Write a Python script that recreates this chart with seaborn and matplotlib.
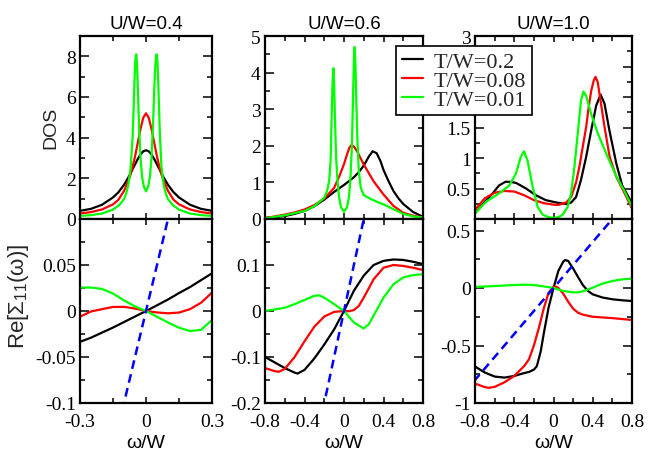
import numpy as np
import pandas as pd
import matplotlib
matplotlib.use("Agg")
import matplotlib.pyplot as plt
import seaborn as sns
from matplotlib.lines import Line2D

sns.set_style("white")
plt.rcParams["font.family"] = ["Liberation Sans", "DejaVu Sans"]
plt.rcParams["mathtext.fontset"] = "custom"
plt.rcParams["mathtext.rm"] = "Liberation Sans"
plt.rcParams["mathtext.it"] = "Liberation Sans:italic"

# ---------------- data ----------------
titles = ["U/W=0.4", "U/W=0.6", "U/W=1.0"]
temp_labels = ["T/W=0.2", "T/W=0.08", "T/W=0.01"]
colors = ["#000000", "#ff0000", "#00ff00"]

# U/W = 0.4, DOS
dos04_T02_w = [-0.3, -0.25, -0.2, -0.15, -0.125, -0.1, -0.075, -0.0625, -0.05, -0.0375, -0.025, -0.0125, 0,
               0.0125, 0.025, 0.0375, 0.05, 0.0625, 0.075, 0.1, 0.125, 0.15, 0.2, 0.25, 0.3]
dos04_T02 = [0.40, 0.50, 0.70, 1.06, 1.32, 1.68, 2.14, 2.42, 2.68, 2.95, 3.17, 3.33, 3.38,
             3.33, 3.17, 2.95, 2.68, 2.42, 2.14, 1.68, 1.32, 1.06, 0.70, 0.50, 0.40]
dos04_T008_w = [-0.3, -0.25, -0.2, -0.15, -0.125, -0.1, -0.075, -0.0625, -0.05, -0.0375, -0.025, -0.0125, 0,
                0.0125, 0.025, 0.0375, 0.05, 0.0625, 0.075, 0.1, 0.125, 0.15, 0.2, 0.25, 0.3]
dos04_T008 = [0.27, 0.34, 0.47, 0.72, 0.95, 1.38, 2.03, 2.49, 3.07, 3.74, 4.43, 4.98, 5.20,
              4.98, 4.43, 3.74, 3.07, 2.49, 2.03, 1.38, 0.95, 0.72, 0.47, 0.34, 0.27]
dos04_T001_w = [-0.3, -0.25, -0.2, -0.15, -0.12, -0.1, -0.09, -0.08, -0.07, -0.061, -0.056, -0.052, -0.048,
                -0.044, -0.04, -0.036, -0.031, -0.025, -0.018, -0.01, 0,
                0.01, 0.018, 0.025, 0.031, 0.036, 0.041, 0.046, 0.050, 0.054, 0.058, 0.063,
                0.07, 0.08, 0.09, 0.1, 0.12, 0.15, 0.2, 0.25, 0.3]
dos04_T001 = [0.15, 0.19, 0.27, 0.46, 0.70, 0.98, 1.25, 1.70, 2.50, 4.00, 5.50, 6.90, 7.90,
              8.10, 7.40, 6.10, 4.40, 3.00, 2.10, 1.60, 1.36,
              1.60, 2.10, 3.00, 4.40, 5.90, 7.30, 8.05, 8.10, 7.30, 5.90, 4.20,
              2.60, 1.70, 1.25, 0.98, 0.70, 0.46, 0.27, 0.19, 0.15]

# U/W = 0.6, DOS
dos06_T02_w = [-0.8, -0.7, -0.6, -0.5, -0.4, -0.3, -0.2, -0.1, 0, 0.1, 0.15, 0.2, 0.25, 0.29, 0.33,
               0.37, 0.4, 0.45, 0.5, 0.55, 0.6, 0.7, 0.8]
dos06_T02 = [0.03, 0.05, 0.08, 0.14, 0.22, 0.35, 0.53, 0.74, 0.93, 1.14, 1.28, 1.46, 1.70, 1.85, 1.80,
             1.58, 1.34, 1.04, 0.77, 0.57, 0.41, 0.19, 0.06]
dos06_T008_w = [-0.8, -0.7, -0.6, -0.5, -0.4, -0.3, -0.2, -0.1, -0.05, 0, 0.03, 0.055, 0.075, 0.1, 0.13,
                0.2, 0.3, 0.4, 0.5, 0.6, 0.7, 0.8]
dos06_T008 = [0.03, 0.07, 0.12, 0.18, 0.26, 0.38, 0.56, 0.85, 1.15, 1.50, 1.76, 1.95, 2.02, 1.98, 1.86,
              1.49, 1.03, 0.67, 0.36, 0.17, 0.09, 0.04]
dos06_T001_w = [-0.8, -0.6, -0.4, -0.3, -0.2, -0.17, -0.15, -0.135, -0.125, -0.115, -0.107, -0.1, -0.09,
                -0.08, -0.065, -0.05, -0.03, 0, 0.03, 0.05, 0.065, 0.08, 0.092, 0.102, 0.108, 0.115,
                0.125, 0.135, 0.15, 0.17, 0.2, 0.27, 0.35, 0.4, 0.5, 0.6, 0.7, 0.8]
dos06_T001 = [0.02, 0.10, 0.22, 0.35, 0.58, 0.78, 1.05, 1.60, 2.80, 3.80, 4.12, 3.70, 2.60,
              1.70, 1.00, 0.60, 0.32, 0.20, 0.32, 0.60, 1.10, 2.00, 3.40, 4.50, 4.70, 4.30,
              3.20, 2.20, 1.30, 0.85, 0.65, 0.55, 0.45, 0.40, 0.27, 0.14, 0.07, 0.04]

# U/W = 1.0, DOS
dos10_T02_w = [-0.8, -0.7, -0.62, -0.555, -0.49, -0.44, -0.38, -0.28, -0.18, -0.08, 0.03, 0.13, 0.18, 0.23,
               0.28, 0.333, 0.384, 0.435, 0.48, 0.52, 0.57, 0.64, 0.7, 0.8]
dos10_T02 = [0.09, 0.28, 0.42, 0.55, 0.61, 0.61, 0.59, 0.50, 0.39, 0.31, 0.27, 0.245, 0.27, 0.36,
             0.64, 1.02, 1.45, 1.86, 2.04, 1.89, 1.45, 0.91, 0.55, 0.26]
dos10_T008_w = [-0.8, -0.7, -0.6, -0.5, -0.4, -0.3, -0.2, -0.1, 0, 0.05, 0.13, 0.18, 0.23, 0.264, 0.3,
                0.333, 0.36, 0.384, 0.41, 0.428, 0.45, 0.469, 0.52, 0.572, 0.64, 0.725, 0.8]
dos10_T008 = [0.15, 0.34, 0.43, 0.46, 0.45, 0.39, 0.31, 0.26, 0.235, 0.23, 0.27, 0.36, 0.60, 0.86, 1.20,
              1.51, 1.85, 2.10, 2.27, 2.33, 2.25, 2.05, 1.51, 1.02, 0.69, 0.42, 0.17]
dos10_T001_w = [-0.8, -0.69, -0.555, -0.45, -0.384, -0.333, -0.30, -0.265, -0.213, -0.162, -0.11, -0.05, 0,
                0.05, 0.094, 0.145, 0.179, 0.213, 0.247, 0.28, 0.305, 0.333, 0.384, 0.452, 0.538,
                0.64, 0.725, 0.8]
dos10_T001 = [0.09, 0.28, 0.42, 0.55, 0.74, 1.02, 1.11, 0.96, 0.53, 0.20, 0.07, 0.03, 0.02,
              0.03, 0.07, 0.20, 0.42, 0.85, 1.40, 1.94, 2.09, 2.02, 1.72, 1.40, 1.07,
              0.70, 0.45, 0.20]

# U/W = 0.4, Re Sigma_11
re04_w = [-0.3, -0.25, -0.2, -0.15, -0.1, -0.05, 0, 0.05, 0.1, 0.15, 0.2, 0.25, 0.3]
re04_T02 = [-0.0335, -0.029, -0.0235, -0.018, -0.012, -0.006, 0, 0.0062, 0.0125, 0.0195, 0.026, 0.0335, 0.041]
re04_T008 = [-0.0062, -0.0005, 0.002, 0.0044, 0.0045, 0.0027, 0, -0.0016, -0.0025, -0.0017, 0.002, 0.009, 0.020]
re04_T001 = [0.0255, 0.0255, 0.024, 0.019, 0.0115, 0.005, 0, -0.0062, -0.0125, -0.0182, -0.0218, -0.0205, -0.0098]

# U/W = 0.6, Re Sigma_11
re06_T02_w = [-0.8, -0.7, -0.6, -0.5, -0.47, -0.4, -0.3, -0.2, -0.1, -0.05, 0, 0.05, 0.1, 0.2, 0.3, 0.4,
              0.5, 0.6, 0.7, 0.8]
re06_T02 = [-0.100, -0.112, -0.124, -0.134, -0.136, -0.128, -0.103, -0.073, -0.040, -0.020, 0, 0.022, 0.044,
            0.077, 0.100, 0.109, 0.112, 0.111, 0.107, 0.102]
re06_T008_w = [-0.8, -0.7, -0.66, -0.6, -0.5, -0.4, -0.3, -0.2, -0.1, 0, 0.05, 0.1, 0.15, 0.2, 0.3, 0.4,
               0.5, 0.6, 0.7, 0.8]
re06_T008 = [-0.124, -0.131, -0.132, -0.126, -0.100, -0.066, -0.034, -0.012, -0.002, 0, -0.0005, 0.002,
             0.011, 0.029, 0.069, 0.094, 0.100, 0.098, 0.094, 0.089]
re06_T001_w = [-0.8, -0.6, -0.5, -0.4, -0.3, -0.25, -0.2, -0.1, 0, 0.1, 0.2, 0.25, 0.3, 0.4, 0.5, 0.6,
               0.7, 0.8]
re06_T001 = [0, 0.007, 0.015, 0.024, 0.033, 0.034, 0.029, 0.015, 0, -0.025, -0.038, -0.029, -0.010,
             0.029, 0.058, 0.073, 0.078, 0.080]

# U/W = 1.0, Re Sigma_11
re10_T02_w = [-0.8, -0.7, -0.6, -0.5, -0.4, -0.3, -0.25, -0.2, -0.17, -0.13, -0.1, -0.05, 0, 0.05, 0.1,
              0.12, 0.15, 0.2, 0.25, 0.3, 0.35, 0.4, 0.5, 0.6, 0.7, 0.8]
re10_T02 = [-0.683, -0.735, -0.770, -0.779, -0.765, -0.740, -0.730, -0.710, -0.680, -0.550, -0.400, -0.170,
            0.0, 0.150, 0.230, 0.243, 0.235, 0.170, 0.095, 0.025, -0.025, -0.055, -0.083, -0.098, -0.107, -0.113]
re10_T008_w = [-0.8, -0.7, -0.66, -0.6, -0.5, -0.4, -0.3, -0.25, -0.2, -0.15, -0.1, -0.05, 0, 0.025,
               0.05, 0.1, 0.15, 0.2, 0.25, 0.3, 0.4, 0.5, 0.6, 0.7, 0.8]
re10_T008 = [-0.831, -0.862, -0.868, -0.860, -0.820, -0.765, -0.680, -0.620, -0.500, -0.350, -0.180,
             -0.040, 0.010, 0.013, 0.0, -0.050, -0.120, -0.180, -0.215, -0.232, -0.250, -0.256, -0.262,
             -0.270, -0.278]
re10_T001_w = [-0.8, -0.6, -0.4, -0.3, -0.2, -0.1, 0, 0.1, 0.2, 0.25, 0.3, 0.4, 0.5, 0.6, 0.7, 0.8]
re10_T001 = [0.009, 0.017, 0.026, 0.029, 0.026, 0.014, 0, -0.026, -0.038, -0.038, -0.029, 0.003, 0.038,
             0.061, 0.075, 0.081]

# reference line Re[Sigma] = omega
diag_w = [-1.0, 1.0]

dos_sets = [
    [(dos04_T02_w, dos04_T02), (dos04_T008_w, dos04_T008), (dos04_T001_w, dos04_T001)],
    [(dos06_T02_w, dos06_T02), (dos06_T008_w, dos06_T008), (dos06_T001_w, dos06_T001)],
    [(dos10_T02_w, dos10_T02), (dos10_T008_w, dos10_T008), (dos10_T001_w, dos10_T001)],
]
re_sets = [
    [(re04_w, re04_T02), (re04_w, re04_T008), (re04_w, re04_T001)],
    [(re06_T02_w, re06_T02), (re06_T008_w, re06_T008), (re06_T001_w, re06_T001)],
    [(re10_T02_w, re10_T02), (re10_T008_w, re10_T008), (re10_T001_w, re10_T001)],
]

# axis settings
xlims = [(-0.3, 0.3), (-0.8, 0.8), (-0.8, 0.8)]
xmajor = [[-0.3, 0, 0.3], [-0.8, -0.4, 0, 0.4, 0.8], [-0.8, -0.4, 0, 0.4, 0.8]]
xmajor_lbl = [["-0.3", "0", "0.3"], ["-0.8", "-0.4", "0", "0.4", "0.8"], ["-0.8", "-0.4", "0", "0.4", "0.8"]]
xminor = [[-0.15, 0.15], [-0.6, -0.2, 0.2, 0.6], [-0.6, -0.2, 0.2, 0.6]]

top_ylims = [(0, 9), (0, 5), (0, 3)]
top_major = [[0, 2, 4, 6, 8], [0, 1, 2, 3, 4, 5], [0, 0.5, 1, 1.5, 2, 2.5, 3]]
# labels "2" and "2.5" of the right panel sit under the legend box in the original
top_lbl = [["0", "2", "4", "6", "8"], ["0", "1", "2", "3", "4", "5"], ["", "0.5", "1", "1.5", "", "", "3"]]
top_minor = [[1, 3, 5, 7], [0.5, 1.5, 2.5, 3.5, 4.5], [0.25, 0.75, 1.25, 1.75, 2.25, 2.75]]

bot_ylims = [(-0.1, 0.1), (-0.2, 0.2), (-1.0, 0.6)]
bot_major = [[-0.1, -0.05, 0, 0.05, 0.1], [-0.2, -0.1, 0, 0.1, 0.2], [-1, -0.5, 0, 0.5]]
bot_lbl = [["-0.1", "-0.05", "0", "0.05", ""], ["-0.2", "-0.1", "0", "0.1", ""], ["-1", "-0.5", "0", "0.5"]]
bot_minor = [[-0.075, -0.025, 0.025, 0.075], [-0.15, -0.05, 0.05, 0.15], [-0.75, -0.25, 0.25]]

# ---------------- figure ----------------
W, H = 648, 452
fig = plt.figure(figsize=(W / 100, H / 100), dpi=100)
fig.patch.set_facecolor("white")

lefts = [80, 265, 475]
widths = [132, 158, 157]
top_y0, top_y1 = 37, 220
bot_y0, bot_y1 = 220, 404

serif = "Liberation Serif"
tick_fs = 14


def style_axes(ax, xi, ylim, ymaj, ylbl, ymin, show_xlabels):
    ax.set_xlim(*xlims[xi])
    ax.set_ylim(*ylim)
    ax.set_xticks(xmajor[xi])
    if show_xlabels:
        ax.set_xticklabels(xmajor_lbl[xi])
    else:
        ax.set_xticklabels([])
    ax.set_xticks(xminor[xi], minor=True)
    ax.set_yticks(ymaj)
    ax.set_yticklabels(ylbl)
    ax.set_yticks(ymin, minor=True)
    ax.tick_params(axis="both", which="both", direction="in", top=True, right=True,
                   bottom=True, left=True, color="black", width=1.1)
    ax.tick_params(axis="y", which="major", length=6.5, pad=3)
    ax.tick_params(axis="y", which="minor", length=3.5)
    ax.tick_params(axis="x", which="major", length=4.5, pad=7)
    ax.tick_params(axis="x", which="minor", length=3.5)
    for lab in ax.get_xticklabels() + ax.get_yticklabels():
        lab.set_fontfamily(serif)
        lab.set_fontsize(tick_fs)
        lab.set_color("black")
    for sp in ax.spines.values():
        sp.set_linewidth(1.6)
        sp.set_color("black")
        sp.set_visible(True)
    ax.set_xlabel("")
    ax.set_ylabel("")
    ax.set_facecolor("white")
    ax.grid(False)


for i in range(3):
    l = lefts[i] / W
    w = widths[i] / W
    ax_t = fig.add_axes([l, 1 - top_y1 / H, w, (top_y1 - top_y0) / H])
    ax_b = fig.add_axes([l, 1 - bot_y1 / H, w, (bot_y1 - bot_y0) / H])

    for (xw, yv), c in zip(dos_sets[i], colors):
        sns.lineplot(x=xw, y=yv, ax=ax_t, color=c, linewidth=1.6, sort=False,
                     estimator=None, legend=False)
    for (xw, yv), c in zip(re_sets[i], colors):
        sns.lineplot(x=xw, y=yv, ax=ax_b, color=c, linewidth=1.6, sort=False,
                     estimator=None, legend=False)
    sns.lineplot(x=diag_w, y=diag_w, ax=ax_b, color="#0000ff", linewidth=1.8,
                 linestyle=(0, (3.5, 2.2)), estimator=None, legend=False)

    style_axes(ax_t, i, top_ylims[i], top_major[i], top_lbl[i], top_minor[i], False)
    style_axes(ax_b, i, bot_ylims[i], bot_major[i], bot_lbl[i], bot_minor[i], True)
    ax_t.set_title(titles[i], fontsize=13.5, pad=6, color="black")

    cx = (lefts[i] + widths[i] / 2) / W
    fig.text(cx, 4 / H, "ω/W", ha="center", va="baseline", fontsize=14, color="black")

fig.text(51 / W, 1 - 128 / H, "DOS", rotation=90, ha="center", va="center", fontsize=14)
fig.text(19 / W, 1 - 296 / H, r"Re[Σ$_{11}$(ω)]", rotation=90, ha="center", va="center", fontsize=16)

handles = [Line2D([0], [0], color=c, linewidth=1.6) for c in colors]
leg = fig.legend(handles, temp_labels, loc="upper left", bbox_to_anchor=(396 / W, 1 - 47 / H),
                 frameon=True, fancybox=False, framealpha=1, edgecolor="black", borderpad=0.25,
                 labelspacing=-0.08, handlelength=0.95, handletextpad=0.5, borderaxespad=0,
                 prop={"family": serif, "size": 16})
leg.get_frame().set_linewidth(1.2)
leg.set_zorder(10)

fig.savefig("out.png", dpi=100, facecolor="white")
